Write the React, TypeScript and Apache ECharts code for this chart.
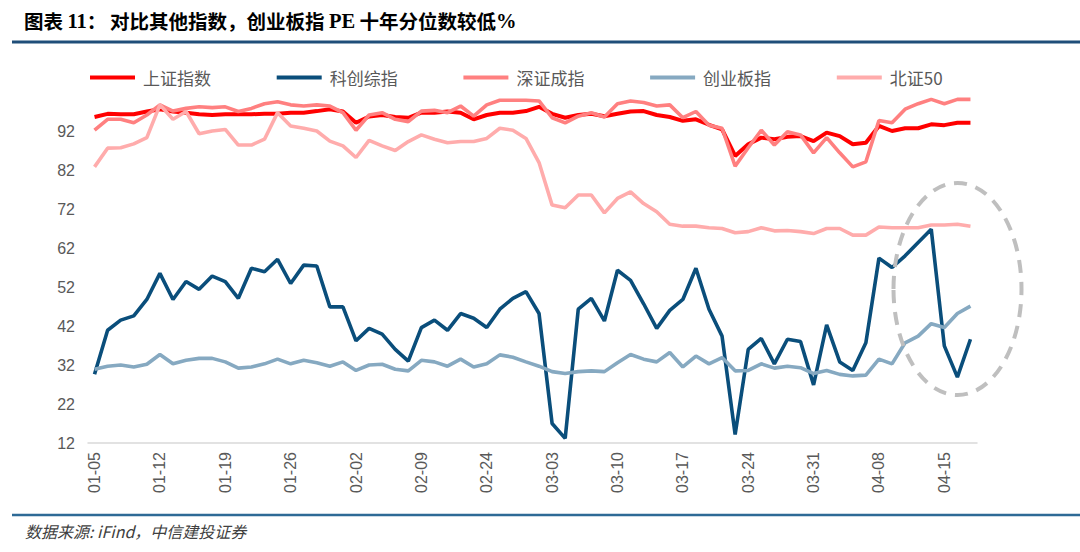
import React, { useEffect, useRef } from "react";
import * as echarts from "echarts";

const categories = [
  "01-05", "01-06", "01-07", "01-08", "01-09",
  "01-12", "01-13", "01-14", "01-15", "01-16",
  "01-19", "01-20", "01-21", "01-22", "01-23",
  "01-26", "01-27", "01-28", "01-29", "01-30",
  "02-02", "02-03", "02-04", "02-05", "02-06",
  "02-09", "02-10", "02-11", "02-12", "02-13",
  "02-24", "02-25", "02-26", "02-27", "03-02",
  "03-03", "03-04", "03-05", "03-06", "03-09",
  "03-10", "03-11", "03-12", "03-13", "03-16",
  "03-17", "03-18", "03-19", "03-20", "03-23",
  "03-24", "03-25", "03-26", "03-27", "03-30",
  "03-31", "04-01", "04-02", "04-03", "04-07",
  "04-08", "04-09", "04-10", "04-13", "04-14",
  "04-15", "04-16", "04-17",
];

const seriesNames = ["上证指数", "科创综指", "深证成指", "创业板指", "北证50"];

const shanghai = [
  95.6, 96.4, 96.3, 96.3, 97, 97.6, 97, 96.7, 96.3, 96.1,
  96.3, 96.3, 96.3, 96.4, 96.4, 96.7, 96.7, 97.1, 97.6, 97,
  94.1, 95.7, 96.1, 95.6, 95.4, 96.7, 96.7, 97, 96.7, 95,
  96.1, 96.7, 96.7, 97.1, 98.2, 96.4, 95.4, 96.1, 96.4, 95.8,
  96.4, 97, 97.1, 96.1, 95.6, 94.6, 95, 93.6, 92.4, 85.6,
  88.6, 90.3, 89.9, 90.5, 90.7, 89.4, 91.6, 90.7, 88.6, 89,
  93.3, 92, 92.7, 92.7, 93.7, 93.5, 94.1, 94.1,
];

const kechuang = [
  29.6, 40.9, 43.5, 44.6, 48.8, 55.5, 48.8, 53.4, 51.4, 54.8,
  53.4, 49.1, 56.8, 55.9, 59.1, 52.9, 57.6, 57.4, 46.9, 46.9,
  38.2, 41.4, 39.9, 36, 33, 41.6, 43.5, 40.9, 45.2, 44,
  41.6, 46.3, 49.1, 50.8, 45.2, 17, 13.2, 46.3, 49.1, 43.3,
  56.3, 53.7, 47.7, 41.4, 46, 48.8, 56.8, 46.3, 39.4, 14.2,
  36, 38.8, 32.3, 38.6, 38, 26.9, 42.3, 32.8, 30.6, 37.7,
  59.4, 57, 60, 63.4, 66.8, 36.9, 28.9, 38.6,
];

const shenzhen = [
  92.2, 95, 95, 94.1, 96.1, 98.7, 97.1, 97.8, 98.2, 98,
  98.2, 97, 97.8, 99, 99.5, 98.7, 98.4, 98.7, 98.4, 96.7,
  92.2, 96.1, 96.7, 95, 94.4, 97.1, 97.3, 96.7, 98.4, 95.8,
  98.7, 99.9, 99.9, 99.9, 99.7, 95.4, 94.1, 95.8, 96.7, 95.6,
  99, 99.7, 99.3, 98.4, 98.7, 95.4, 97, 93.5, 92.7, 83,
  87.7, 92.2, 88.4, 91.8, 91, 86.4, 90.3, 86.4, 82.8, 84.1,
  94.7, 94.1, 97.6, 99, 100.1, 99, 100.1, 100.1,
];

const chuangye = [
  30.9, 31.7, 32, 31.5, 32.2, 34.7, 32.3, 33.2, 33.7, 33.7,
  32.8, 31.2, 31.5, 32.3, 33.5, 32.3, 33.2, 32.6, 31.7, 32.8,
  30.6, 32, 32.2, 30.9, 30.5, 33.2, 32.8, 31.7, 33.5, 31.5,
  32.3, 34.6, 34, 32.8, 31.7, 30.3, 29.8, 30.3, 30.5, 30.3,
  32.6, 34.7, 33.5, 32.8, 35.2, 31.5, 34.3, 32.3, 33.9, 30.5,
  30.6, 32.3, 31.2, 31.7, 31.3, 29.8, 30.6, 29.6, 29.2, 29.4,
  33.5, 32.3, 37.7, 39.4, 42.6, 41.6, 45.2, 47.1,
];

const beizheng50 = [
  82.8, 87.6, 87.7, 88.7, 90.3, 98.7, 95, 97, 91.3, 92,
  92.4, 88.4, 88.4, 89.9, 96.7, 93.3, 92.7, 92, 89.4, 88.2,
  85.2, 89.6, 88.2, 87, 89.3, 91, 89.9, 89, 89.3, 89.3,
  90.1, 92.7, 92.2, 90.1, 83.9, 73, 72.3, 75.6, 75.6, 71,
  74.7, 76.4, 73.4, 71.3, 68.1, 67.6, 67.6, 67.2, 67, 65.9,
  66.2, 67.2, 66.4, 66.5, 66.2, 65.7, 67, 67, 65.3, 65.3,
  67.4, 67.2, 67.2, 67.2, 67.9, 67.9, 68.1, 67.6,
];

const yMin = 12;
const yMax = 102;
const yInterval = 10;

const seriesData = [shanghai, kechuang, shenzhen, chuangye, beizheng50];
const seriesColors = ["#FF0000", "#0A4E7B", "#FF8080", "#86A9C1", "#FFACAC"];
const seriesWidths = [4, 3.6, 3.6, 3.6, 3.6];

export default function App() {
  const ref = useRef<HTMLDivElement>(null);

  useEffect(() => {
    if (!ref.current) return;
    const chart = echarts.init(ref.current, null, { renderer: "svg" });
    const legendFont = {
      color: "#595959",
      fontSize: 17,
      fontFamily: "Noto Sans CJK SC, Liberation Sans, sans-serif",
      padding: [0, 0, 0, 3],
    };
    const titleRich = {
      c: { fontSize: 19.5, fontWeight: "bold", fill: "#000", fontFamily: "Noto Sans CJK SC" },
      e: { fontSize: 20.5, fontWeight: "bold", fill: "#000", fontFamily: "Liberation Serif" },
    };
    chart.setOption({
      animation: false,
      backgroundColor: "#ffffff",
      grid: { left: 88, right: 103, top: 92, bottom: 109, containLabel: false },
      legend: seriesNames.map((n, i) => ({
        data: [n],
        left: 85 + i * 186.7,
        top: 64,
        icon: "rect",
        itemWidth: 45,
        itemHeight: 4,
        textStyle: legendFont,
        selectedMode: false,
      })),
      xAxis: {
        type: "category",
        data: categories,
        boundaryGap: true,
        axisLine: { lineStyle: { color: "#D9D9D9", width: 1.5 } },
        axisTick: { interval: 4, length: 5, lineStyle: { color: "#D9D9D9", width: 1.5 } },
        axisLabel: {
          interval: 4,
          rotate: 90,
          margin: 9,
          color: "#595959",
          fontSize: 16,
          fontFamily: "Liberation Sans, Arial, sans-serif",
        },
        splitLine: { show: false },
      },
      yAxis: {
        type: "value",
        min: yMin,
        max: yMax,
        interval: yInterval,
        axisLine: { show: false },
        axisTick: { show: false },
        splitLine: { show: false },
        axisLabel: {
          showMaxLabel: false,
          margin: 13,
          color: "#595959",
          fontSize: 16,
          fontFamily: "Liberation Sans, Arial, sans-serif",
        },
      },
      series: seriesNames.map((n, i) => ({
        name: n,
        type: "line",
        data: seriesData[i],
        symbol: "none",
        smooth: false,
        lineStyle: { color: seriesColors[i], width: seriesWidths[i] },
        itemStyle: { color: seriesColors[i] },
      })),
      graphic: [
        {
          type: "text",
          left: 24,
          top: 10,
          style: { text: "{c|图表 }{e|11}{c|：}", rich: titleRich },
        },
        {
          type: "text",
          left: 110,
          top: 10,
          style: {
            text: "{c|对比其他指数，创业板指 }{e|PE}{c| 十年分位数较低}{e|%}",
            rich: titleRich,
          },
        },
        {
          type: "line",
          shape: { x1: 12, y1: 42, x2: 1080, y2: 42 },
          style: { stroke: "#1F4E79", lineWidth: 3 },
        },
        {
          type: "line",
          shape: { x1: 12, y1: 515, x2: 1080, y2: 515 },
          style: { stroke: "#2E6A96", lineWidth: 2.5 },
        },
        {
          type: "text",
          left: 25,
          top: 523,
          style: {
            text: "数据来源: iFind，中信建投证券",
            fontSize: 16,
            fontStyle: "italic",
            fill: "#404040",
            fontFamily: "Noto Sans CJK SC, Liberation Serif, serif",
          },
        },
        {
          type: "ellipse",
          z: 100,
          shape: { cx: 957.5, cy: 289, rx: 64, ry: 106 },
          style: { fill: "none", stroke: "#BFBFBF", lineWidth: 4, lineDash: [13, 9] },
        },
      ],
    });
    return () => chart.dispose();
  }, []);

  return (
    <div
      ref={ref}
      style={{ position: "fixed", left: 0, top: 0, width: 1080, height: 552, background: "#fff" }}
    />
  );
}
